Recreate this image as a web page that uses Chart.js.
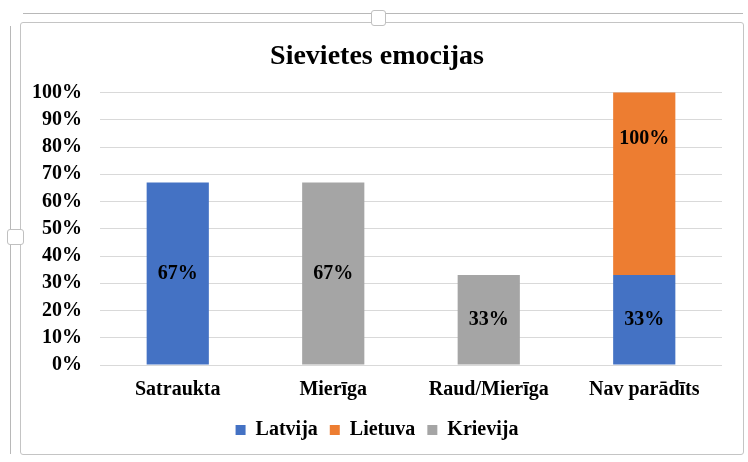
<!DOCTYPE html>
<html>
<head>
<meta charset="utf-8">
<script src="https://cdn.jsdelivr.net/npm/chart.js@4/dist/chart.umd.min.js"></script>
<style>
  html, body { margin: 0; padding: 0; background: #fff; }
  body { width: 748px; height: 462px; position: relative; overflow: hidden; }
  .line { position: absolute; background: #b8b8b8; }
  .frame { position: absolute; left: 20px; top: 22px; width: 724px; height: 433px; border: 1px solid #c4c4c4; border-radius: 3px; box-sizing: border-box; }
  .handle { position: absolute; background: #fff; border: 1px solid #c0c0c0; border-radius: 3px; box-sizing: border-box; }
  #wrap { position: absolute; left: 21px; top: 23px; width: 722px; height: 431px; }
</style>
</head>
<body>
<div class="line" style="left:23px; top:13px; width:720px; height:1px;"></div>
<div class="line" style="left:10px; top:26px; width:1px; height:428px;"></div>
<div class="frame"></div>
<div class="handle" style="left:371px; top:10px; width:15px; height:16px;"></div>
<div class="handle" style="left:7px; top:229px; width:17px; height:16px;"></div>
<div id="wrap"><canvas id="c"></canvas></div>
<script>
const categories = ['Satraukta', 'Mierīga', 'Raud/Mierīga', 'Nav parādīts'];
const latvija = [67, null, null, 33];
const lietuva = [null, null, null, 100];
const krievija = [null, 67, 33, null];
const yTicks = [0, 10, 20, 30, 40, 50, 60, 70, 80, 90, 100];

const serif = '"Liberation Serif", "Times New Roman", serif';

const barLabels = {
  id: 'barLabels',
  afterDatasetsDraw(chart) {
    const ctx = chart.ctx;
    ctx.save();
    ctx.font = 'bold 20px ' + serif;
    ctx.fillStyle = '#000';
    ctx.textAlign = 'center';
    ctx.textBaseline = 'middle';
    chart.data.datasets.forEach((ds, i) => {
      const meta = chart.getDatasetMeta(i);
      if (meta.hidden) return;
      meta.data.forEach((el, j) => {
        const v = ds.data[j];
        if (v === null || v === 0) return;
        const p = el.getProps(['x', 'y', 'base'], true);
        ctx.fillText(v + '%', p.x, (p.y + p.base) / 2);
      });
    });
    ctx.restore();
  }
};

new Chart(document.getElementById('c'), {
  type: 'bar',
  data: {
    labels: categories,
    datasets: [
      { label: 'Latvija', data: latvija, backgroundColor: '#4472C4', clip: 0 },
      { label: 'Lietuva', data: lietuva, backgroundColor: '#ED7D31', clip: 0 },
      { label: 'Krievija', data: krievija, backgroundColor: '#A5A5A5', clip: 0 }
    ]
  },
  options: {
    responsive: true,
    maintainAspectRatio: false,
    animation: false,
    devicePixelRatio: 1,
    barPercentage: 0.4,
    categoryPercentage: 1,
    layout: { padding: { left: 11, right: 21, top: 0, bottom: 4 } },
    plugins: {
      title: {
        display: true,
        text: 'Sievietes emocijas',
        color: '#000',
        font: { family: serif, size: 28, weight: 'bold' },
        padding: { top: 17, bottom: 19 }
      },
      legend: {
        display: true,
        position: 'bottom',
        labels: {
          color: '#000',
          font: { family: serif, size: 20, weight: 'bold' },
          boxWidth: 10,
          boxHeight: 10,
          padding: 12
        }
      },
      tooltip: { enabled: false }
    },
    scales: {
      x: {
        stacked: true,
        grid: { display: false, drawTicks: false },
        border: { display: false },
        ticks: {
          color: '#000',
          font: { family: serif, size: 20, weight: 'bold' },
          padding: 13,
          maxRotation: 0,
          autoSkip: false
        },
        afterFit(axis) { axis.height = 43; }
      },
      y: {
        stacked: true,
        min: 0,
        max: 100,
        afterBuildTicks(axis) { axis.ticks = yTicks.map(v => ({ value: v })); },
        afterFit(axis) { axis.width = 68; },
        grid: { color: '#D9D9D9', lineWidth: 1, drawTicks: false },
        border: { display: false },
        ticks: {
          color: '#000',
          font: { family: serif, size: 20, weight: 'bold' },
          padding: 18,
          autoSkip: false,
          callback: v => v + '%'
        }
      }
    }
  },
  plugins: [barLabels]
});
</script>
</body>
</html>
